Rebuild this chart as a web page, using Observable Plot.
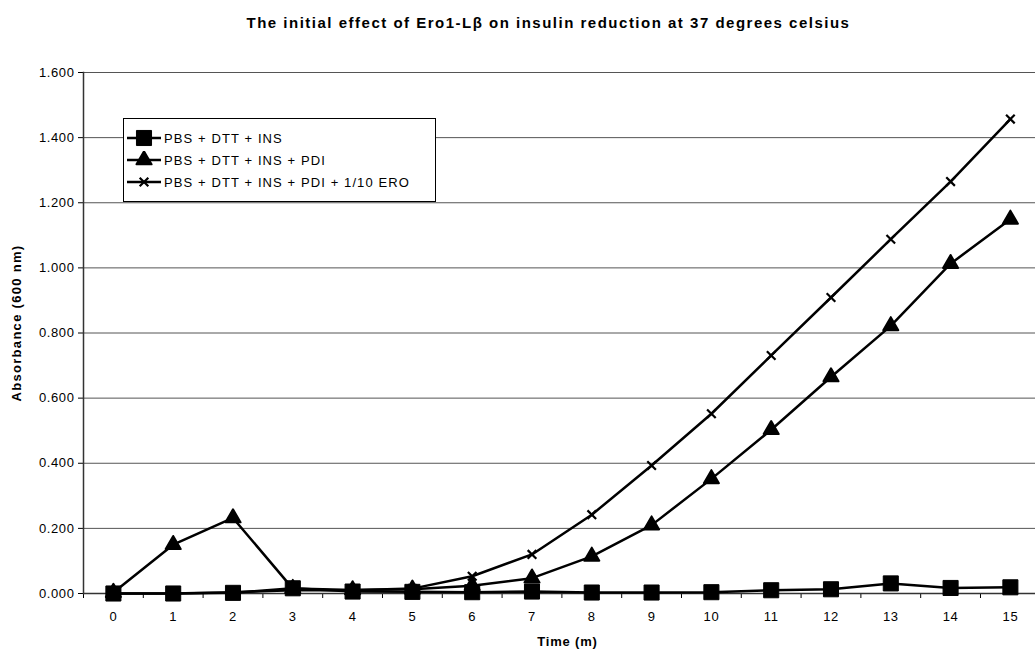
<!DOCTYPE html>
<html>
<head>
<meta charset="utf-8">
<script src="https://cdn.jsdelivr.net/npm/d3@7"></script>
<script src="https://cdn.jsdelivr.net/npm/@observablehq/plot@0.6"></script>
<style>
  html, body { margin: 0; padding: 0; background: #fff; }
  body { width: 1035px; height: 650px; position: relative; overflow: hidden; font-family: "Liberation Sans", Arial, sans-serif; }
  #title { position: absolute; left: 0; top: 14px; width: 1035px; padding-left: 62px; box-sizing: border-box; text-align: center; font-weight: bold; font-size: 15px; letter-spacing: 1.5px; color: #000; }
  #chart { position: absolute; left: 0; top: 45px; }
  #legend { position: absolute; left: 123px; top: 118px; width: 313px; height: 84px; border: 1px solid #000; background: #fff; font-size: 13px; letter-spacing: 1.1px; color: #000; padding-top: 8px; box-sizing: border-box; }
  .entry { display: flex; align-items: center; height: 22px; padding-left: 3px; }
  .entry svg { margin-right: 3px; }
</style>
</head>
<body>
<div id="title">The initial effect of Ero1-Lβ on insulin reduction at 37 degrees celsius</div>
<div id="chart"></div>
<div id="legend"></div>
<script>
// ---- data ----
const times = [0, 1, 2, 3, 4, 5, 6, 7, 8, 9, 10, 11, 12, 13, 14, 15];
const seriesNames = ["PBS + DTT + INS", "PBS + DTT + INS + PDI", "PBS + DTT + INS + PDI + 1/10 ERO"];
const insValues = [0.000, 0.000, 0.002, 0.016, 0.006, 0.005, 0.004, 0.006, 0.003, 0.003, 0.004, 0.010, 0.013, 0.031, 0.017, 0.019];
const pdiValues = [0.003, 0.150, 0.232, 0.015, 0.011, 0.013, 0.024, 0.047, 0.114, 0.210, 0.352, 0.503, 0.665, 0.822, 1.013, 1.149];
const eroValues = [0.000, 0.000, 0.004, 0.010, 0.010, 0.015, 0.053, 0.120, 0.242, 0.393, 0.552, 0.731, 0.909, 1.088, 1.265, 1.457];
const yTicks = [0, 0.2, 0.4, 0.6, 0.8, 1.0, 1.2, 1.4, 1.6];
const xTickMarks = [-0.5, 0.5, 1.5, 2.5, 3.5, 4.5, 5.5, 6.5, 7.5, 8.5, 9.5, 10.5, 11.5, 12.5, 13.5, 14.5];

const symbols = ["square", "triangle", "times"];
const symbolR = [8.5, 5.6, 4];

const allValues = [insValues, pdiValues, eroValues];
const seriesRows = allValues.map((vals, si) => times.map((t, i) => ({time: t, value: vals[i], series: seriesNames[si]})));

const font = '"Liberation Sans", Arial, sans-serif';

const seriesMarks = [];
[2, 1, 0].forEach(si => {
  seriesMarks.push(Plot.line(seriesRows[si], {x: "time", y: "value", stroke: "#000", strokeWidth: 2.5}));
});
[2, 1, 0].forEach(si => {
  seriesMarks.push(Plot.dot(seriesRows[si], {
    x: "time", y: "value", symbol: symbols[si], r: symbolR[si],
    fill: si === 2 ? "none" : "#000", stroke: "#000",
    strokeWidth: si === 2 ? 2.2 : (si === 1 ? 2 : 1), strokeLinejoin: "round"
  }));
});

const chart = Plot.plot({
  width: 1035,
  height: 605,
  marginTop: 27,
  marginBottom: 57,
  marginLeft: 83,
  marginRight: 0,
  style: {fontFamily: font, fontSize: "13px", color: "#000", background: "transparent"},
  x: {type: "linear", domain: [-0.5, 15.42], label: null},
  y: {domain: [0, 1.6], label: null},
  marks: [
    Plot.gridY(yTicks, {stroke: "#555", strokeOpacity: 1, strokeWidth: 1}),
    Plot.axisY(yTicks, {tickFormat: d3.format(".3f"), tickSize: 5, tickPadding: 4, fontSize: 13, stroke: "#000", label: "Absorbance (600 nm)", labelAnchor: "center", labelOffset: 72, labelArrow: "none"}),
    Plot.axisX(xTickMarks, {tickFormat: () => "", tickSize: 5, stroke: "#000", label: null}),
    Plot.axisX(times, {tickSize: 0, tickPadding: 18, fontSize: 13, label: null}),
    Plot.frame({anchor: "left", stroke: "#333", strokeWidth: 1.5}),
    Plot.ruleY([0], {stroke: "#333", strokeWidth: 1.5}),
    ...seriesMarks,
    Plot.text(["Time (m)"], {frameAnchor: "bottom", dy: 52, dx: 8, fontWeight: "bold", fontSize: 13})
  ]
});
document.getElementById("chart").appendChild(chart);

const svg = d3.select(chart);
svg.selectAll("g[aria-label='x-axis tick label'] text, g[aria-label='y-axis tick label'] text").style("letter-spacing", "0.6px");
const yLabel = svg.select("g[aria-label='y-axis label']");
yLabel.attr("font-weight", "bold").style("letter-spacing", "1.3px");
yLabel.attr("transform", ((yLabel.attr("transform") || "") + " translate(0,-10)").trim());
svg.selectAll("g[aria-label='text'] text").style("letter-spacing", "0.8px");

// legend
const legend = d3.select("#legend");
seriesNames.forEach((name, i) => {
  const e = legend.append("div").attr("class", "entry");
  const s = e.append("svg").attr("width", 34).attr("height", 18);
  s.append("line").attr("x1", 0).attr("x2", 34).attr("y1", 9).attr("y2", 9).attr("stroke", "#000").attr("stroke-width", 2.5);
  const sym = {square: d3.symbolSquare, triangle: d3.symbolTriangle, times: d3.symbolTimes}[symbols[i]];
  const size = Math.PI * symbolR[i] * symbolR[i];
  s.append("path").attr("transform", "translate(17,9)")
    .attr("d", d3.symbol(sym, size)())
    .attr("fill", i === 2 ? "none" : "#000").attr("stroke", "#000")
    .attr("stroke-width", i === 2 ? 2.2 : (i === 1 ? 2 : 1)).attr("stroke-linejoin", "round");
  e.append("span").text(name);
});
</script>
</body>
</html>
